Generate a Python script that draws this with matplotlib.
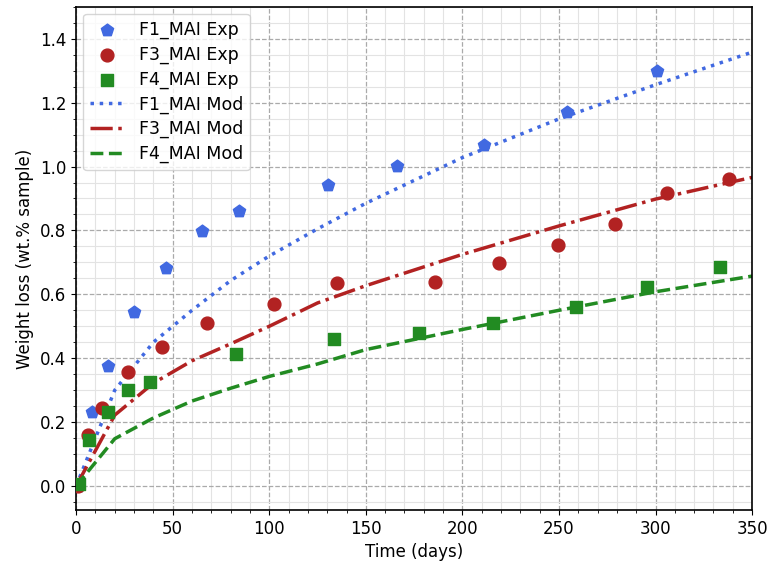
import matplotlib
matplotlib.use("Agg")
import matplotlib.pyplot as plt
from matplotlib.ticker import MultipleLocator

# Experimental data
f1_t = [1.0, 8.4, 16.7, 29.9, 46.3, 65.1, 84.1, 130.5, 165.9, 211.3, 254.4, 300.9]
f1_w = [0.0, 0.231, 0.377, 0.544, 0.681, 0.798, 0.860, 0.941, 1.003, 1.067, 1.170, 1.298]

f3_t = [1.2, 5.9, 13.3, 26.6, 44.4, 68.0, 102.2, 135.2, 185.7, 219.1, 249.5, 279.0, 305.7, 338.2]
f3_w = [0.0, 0.159, 0.245, 0.358, 0.434, 0.511, 0.569, 0.635, 0.637, 0.697, 0.753, 0.821, 0.917, 0.960]

f4_t = [1.6, 6.9, 16.7, 26.9, 38.5, 82.9, 133.3, 177.3, 216.1, 258.9, 295.4, 333.3]
f4_w = [0.006, 0.144, 0.233, 0.302, 0.327, 0.413, 0.460, 0.478, 0.511, 0.560, 0.623, 0.687]

# Model curves
mod_t = [0, 20, 40, 60, 80, 100, 125, 150, 200, 250, 300, 350]
f1_mod = [0.0, 0.300, 0.450, 0.550, 0.643, 0.720, 0.805, 0.885, 1.028, 1.149, 1.256, 1.358]
f3_mod = [0.0, 0.222, 0.322, 0.392, 0.445, 0.500, 0.573, 0.627, 0.725, 0.814, 0.898, 0.966]
f4_mod = [0.0, 0.148, 0.213, 0.266, 0.306, 0.343, 0.382, 0.427, 0.490, 0.550, 0.608, 0.657]

c_blue = "#4169E1"
c_red = "#B22222"
c_green = "#228B22"

fig = plt.figure(figsize=(7.69, 5.66), dpi=100)
ax = fig.add_axes([0.099, 0.099, 0.879, 0.889])

ax.scatter(f1_t, f1_w, marker="p", s=85, color=c_blue, label="F1_MAI Exp", zorder=3)
ax.scatter(f3_t, f3_w, marker="o", s=85, color=c_red, label="F3_MAI Exp", zorder=3)
ax.scatter(f4_t, f4_w, marker="s", s=70, color=c_green, label="F4_MAI Exp", zorder=3)
ax.plot(mod_t, f1_mod, linestyle=":", color=c_blue, lw=2.5, label="F1_MAI Mod", zorder=2)
ax.plot(mod_t, f3_mod, linestyle="-.", color=c_red, lw=2.5, label="F3_MAI Mod", zorder=2)
ax.plot(mod_t, f4_mod, linestyle="--", color=c_green, lw=2.5, label="F4_MAI Mod", zorder=2)

ax.set_xlim(0, 350)
ax.set_ylim(-0.075, 1.5)
ax.xaxis.set_major_locator(MultipleLocator(50))
ax.xaxis.set_minor_locator(MultipleLocator(10))
ax.yaxis.set_major_locator(MultipleLocator(0.2))
ax.yaxis.set_minor_locator(MultipleLocator(0.05))
ax.grid(which="major", linestyle="--", color="#aaaaaa", lw=0.9)
ax.grid(which="minor", linestyle="-", color="#e3e3e3", lw=0.8)
ax.set_axisbelow(True)
ax.tick_params(labelsize=12)
for s in ax.spines.values():
    s.set_linewidth(1.2)

ax.set_xlabel("Time (days)", fontsize=12)
ax.set_ylabel("Weight loss (wt.% sample)", fontsize=12)
ax.legend(loc="upper left", fontsize=12.5, handlelength=2.0, labelspacing=0.38,
          borderaxespad=0.4)

fig.savefig("out.png", dpi=100)
